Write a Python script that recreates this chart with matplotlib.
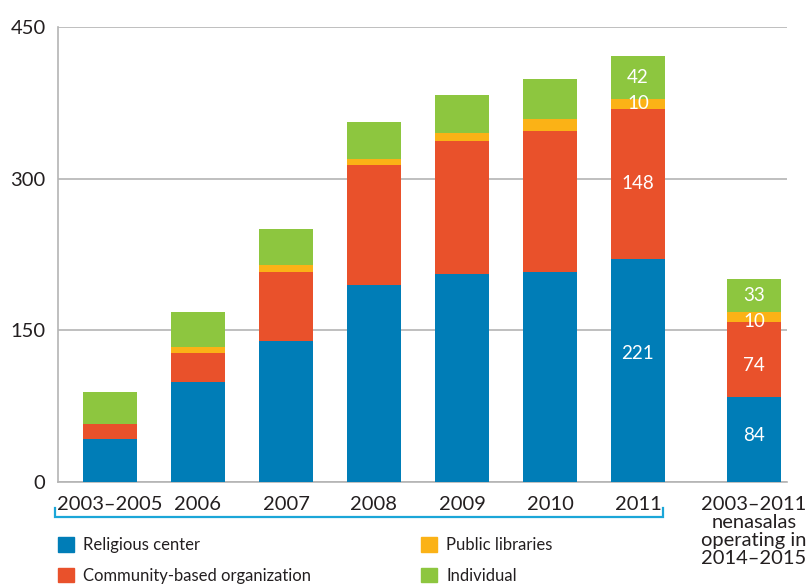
import numpy as np
import matplotlib.pyplot as plt
from matplotlib.patches import Patch

plt.rcParams['font.family'] = ['Lato', 'DejaVu Sans']

# nenasalas opened per period, by host type
periods = ['2003–2005', '2006', '2007', '2008', '2009', '2010', '2011',
           '2003–2011\nnenasalas\noperating in\n2014–2015']
religious = [43, 99, 139, 195, 206, 208, 221, 84]
community = [14, 29, 69, 118, 131, 139, 148, 74]
libraries = [0, 5, 7, 6, 8, 12, 10, 10]
individual = [32, 35, 35, 37, 38, 40, 42, 33]

series_names = ['Religious center', 'Community-based organization',
                'Public libraries', 'Individual']
colors = ['#007DB7', '#E9512B', '#FBB216', '#8DC63F']

# bars with printed values (index 6 = 2011, index 7 = still operating)
labelled = [6, 7]
# nudge for individual value labels, in points: (series, bar) -> dy
label_nudge = {(0, 6): 12, (1, 7): -4, (0, 7): 3, (2, 7): -3}

xpos = np.array([0, 1, 2, 3, 4, 5, 6, 7.32])
width = 0.615

fig = plt.figure(figsize=(8.06, 5.86), dpi=100)
ax = fig.add_axes([0.072, 0.1775, 0.904, 0.7765])

bottom = np.zeros(len(periods))
for s, (vals, name, col) in enumerate(zip([religious, community, libraries, individual],
                                          series_names, colors)):
    vals = np.array(vals, dtype=float)
    ax.bar(xpos, vals, width, bottom=bottom, color=col, label=name, zorder=3)
    for i in labelled:
        ax.annotate(str(int(vals[i])), (xpos[i], bottom[i] + vals[i] / 2),
                    xytext=(0, label_nudge.get((s, i), 0)), textcoords='offset points',
                    ha='center', va='center', color='white', fontsize=13.5, zorder=4)
    bottom += vals

ax.set_xlim(-0.59, 7.69)
ax.set_ylim(0, 450)
ax.set_yticks([0, 150, 300, 450])
ax.yaxis.grid(True, color='#B4B4B4', linewidth=1.2, zorder=0)
ax.set_axisbelow(True)
ax.tick_params(axis='both', length=0, labelsize=14.5, colors='#231F20')
ax.tick_params(axis='y', pad=9)
ax.tick_params(axis='x', pad=10)
ax.set_xticks(xpos)
ax.set_xticklabels(periods, linespacing=1.08)

for side in ['top', 'right']:
    ax.spines[side].set_visible(False)
for side in ['left', 'bottom']:
    ax.spines[side].set_color('#B4B4B4')
    ax.spines[side].set_linewidth(1.2)

# bracket under the yearly bars
bx0, bx1 = xpos[0] - 0.625, xpos[6] + 0.285
ax.plot([bx0, bx0, bx1, bx1], [-26, -34.5, -34.5, -26], color='#1BA6D8',
        linewidth=1.6, clip_on=False, solid_joinstyle='miter')

handles = [Patch(color=c) for c in colors]
fig.legend(handles, series_names, loc='upper left',
           bbox_to_anchor=(0.072, 0.083), ncol=2, frameon=False,
           fontsize=12, handlelength=0.95, handleheight=0.95,
           handletextpad=0.55, labelspacing=0.88, columnspacing=6.6,
           labelcolor='#231F20', borderaxespad=0, borderpad=0)

fig.savefig('out.png', dpi=100)
